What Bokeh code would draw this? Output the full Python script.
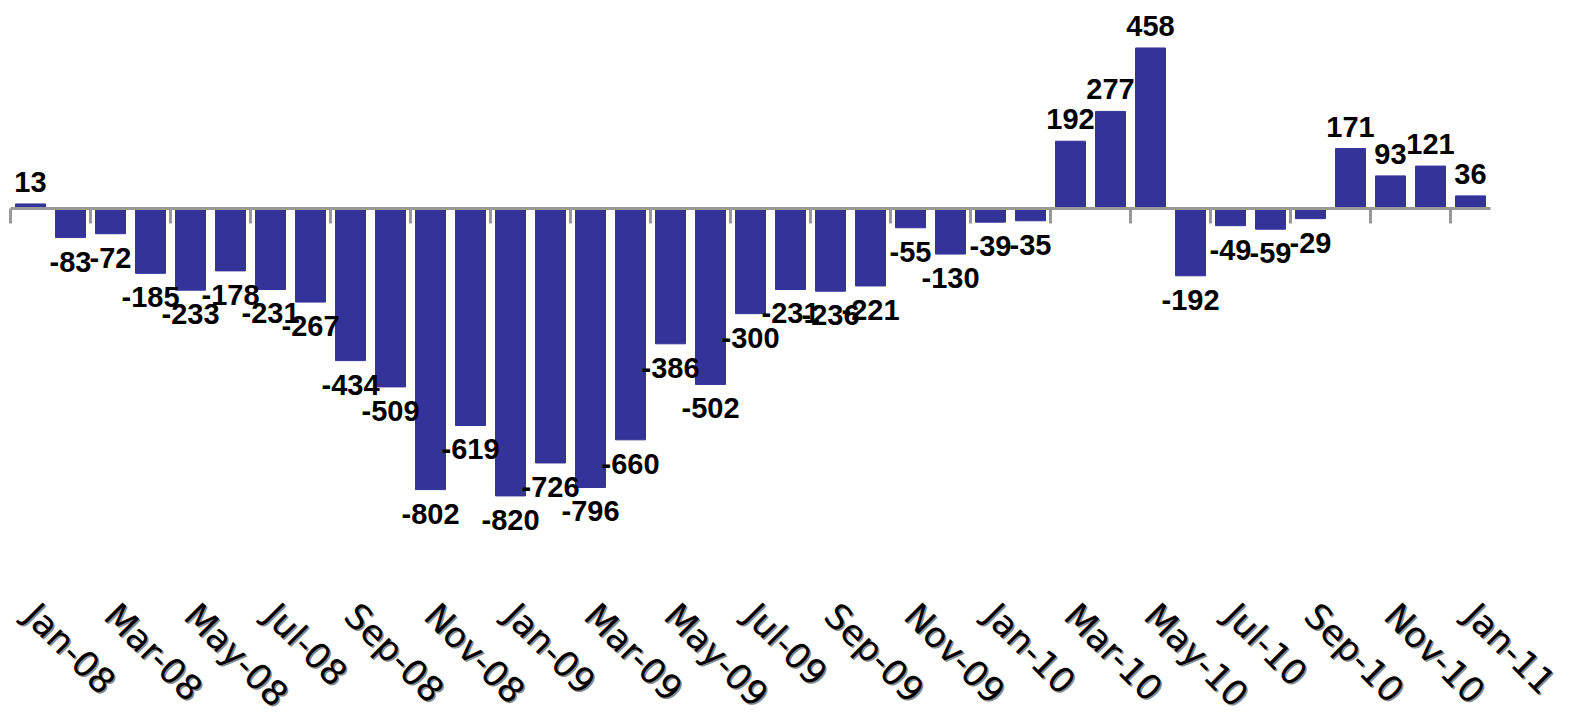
import math

from bokeh.plotting import figure
from bokeh.models import ColumnDataSource, Range1d
from bokeh.core.properties import value
from bokeh.embed import file_html
from bokeh.resources import INLINE

# Monthly change, Jan-08 .. Jan-11
months = [
    "Jan-08", "Feb-08", "Mar-08", "Apr-08", "May-08", "Jun-08",
    "Jul-08", "Aug-08", "Sep-08", "Oct-08", "Nov-08", "Dec-08",
    "Jan-09", "Feb-09", "Mar-09", "Apr-09", "May-09", "Jun-09",
    "Jul-09", "Aug-09", "Sep-09", "Oct-09", "Nov-09", "Dec-09",
    "Jan-10", "Feb-10", "Mar-10", "Apr-10", "May-10", "Jun-10",
    "Jul-10", "Aug-10", "Sep-10", "Oct-10", "Nov-10", "Dec-10",
    "Jan-11",
]
values = [
    13, -83, -72, -185, -233, -178, -231, -267, -434, -509, -802, -619,
    -820, -726, -796, -660, -386, -502, -300, -231, -236, -221, -55, -130,
    -39, -35, 192, 277, 458, -192, -49, -59, -29, 171, 93, 121, 36,
]

BAR = "#333399"
AXIS_GREY = "#999999"

W, H = 1570, 718
n = len(months)
idx = list(range(n))

# layout in pixels: 40px per month starting 10px from the left,
# zero line 208px from the top, 0.3505px per unit
slot_px = 40
left_px = 10
zero_px = 208
px_per_unit = 0.3505
label_px = 609  # where the month labels start

x_start = -0.5 - left_px / slot_px
x_end = x_start + W / slot_px
y_top = zero_px / px_per_unit
y_bot = -(H - zero_px) / px_per_unit

p = figure(
    width=W, height=H,
    x_range=Range1d(x_start, x_end),
    y_range=Range1d(y_bot, y_top),
    output_backend="svg", toolbar_location=None,
    min_border=0,
)
p.outline_line_color = None
p.background_fill_color = "white"
p.border_fill_color = "white"
p.grid.visible = False
p.xaxis.visible = False
p.yaxis.visible = False

src = ColumnDataSource(dict(x=idx, y=values))
p.vbar(x="x", top="y", bottom=0, width=0.75, source=src,
       fill_color=BAR, line_color=BAR, line_width=1)

# zero line across all months, with tick marks at every other boundary
p.segment(x0=[-0.5], y0=[0], x1=[n - 0.5], y1=[0], line_color=AXIS_GREY, line_width=3)
tick_x = [i - 0.5 for i in range(0, n, 2)]
tick_len = 15 / px_per_unit
p.segment(x0=tick_x, y0=[0] * len(tick_x), x1=tick_x, y1=[-tick_len] * len(tick_x),
          line_color=AXIS_GREY, line_width=3)

# value labels above positive bars, below negative ones
pos = ColumnDataSource(dict(
    x=[i for i, v in zip(idx, values) if v >= 0],
    y=[v for v in values if v >= 0],
    t=[str(v) for v in values if v >= 0],
))
neg = ColumnDataSource(dict(
    x=[i for i, v in zip(idx, values) if v < 0],
    y=[v for v in values if v < 0],
    t=[str(v) for v in values if v < 0],
))
label_style = dict(text_font=value("Liberation Sans"), text_font_style="bold",
                   text_font_size="29px", text_color="black", text_align="center")
p.text(x="x", y="y", text="t", source=pos, text_baseline="bottom", y_offset=-12, **label_style)
p.text(x="x", y="y", text="t", source=neg, text_baseline="top", y_offset=14, **label_style)

# month labels, every other month, slanted downwards with a soft grey shadow
lab_idx = idx[::2]
lab_src = ColumnDataSource(dict(
    x=lab_idx,
    y=[-(label_px - zero_px) / px_per_unit] * len(lab_idx),
    t=[months[i] for i in lab_idx],
))
month_style = dict(angle=-math.pi / 4, text_align="left", text_baseline="middle",
                   text_font=value("DejaVu Sans"), text_font_style="normal",
                   text_font_size="35px")
p.text(x="x", y="y", text="t", source=lab_src, text_color="#8a8a8a",
       x_offset=1.5, y_offset=1.5, **month_style)
p.text(x="x", y="y", text="t", source=lab_src, text_color="black", **month_style)

open("out.html", "w").write(file_html(p, INLINE))
